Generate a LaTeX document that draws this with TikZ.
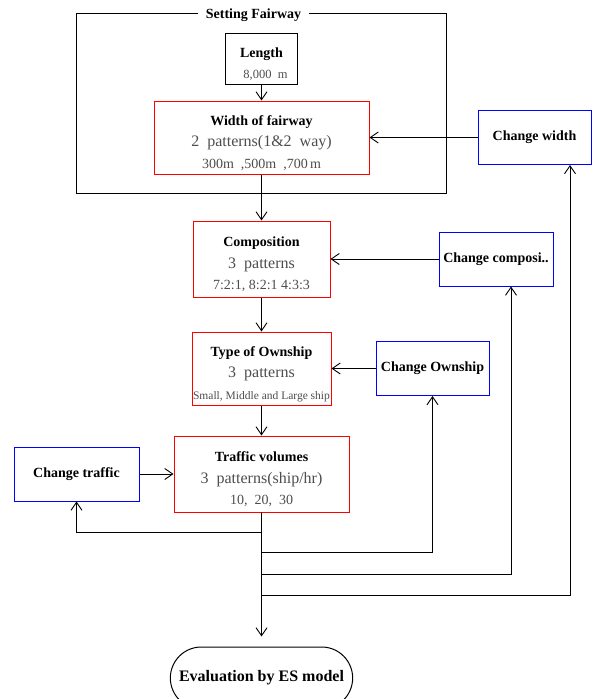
\documentclass[tikz,border=0pt]{standalone}
\usepackage{fontspec}
\setmainfont{Liberation Serif}
\usepackage{xcolor}
\usepackage{tikz}
\usetikzlibrary{positioning}
\usetikzlibrary{arrows.meta}
\usetikzlibrary{shapes.misc}
\usetikzlibrary{fit}

\definecolor{textgray}{RGB}{77,77,77}
\newcommand{\headline}[1]{\rule{0pt}{21pt}\bfseries #1}
\newcommand{\patfont}{\fontsize{16}{21.5}\selectfont\color{textgray}}
\newcommand{\valfont}{\fontsize{14}{21.5}\selectfont\color{textgray}}
\newcommand{\shipfont}{\fontsize{11.5}{21.5}\selectfont\color{textgray}}

\begin{document}
\begin{tikzpicture}[x=1pt,y=-1pt,font=\fontsize{14}{21.5}\selectfont,
      factor box/.style={rectangle,draw=red,line width=1pt,align=center,
        inner sep=0pt},
      change box/.style={rectangle,draw=blue,line width=1pt,align=center,
        inner sep=0pt,minimum height=54pt,font=\fontsize{14}{21.5}\selectfont\bfseries},
      flow/.style={-{Straight Barb[length=8pt,width=11pt]},line width=0.9pt}
      ]
      \useasboundingbox (0,0) rectangle (594,699);

      \node[factor box,draw=black,minimum width=72pt,minimum height=51pt] (len)
        at (261.5,58.5) {{\headline{Length}}\\\hspace{8pt}{\fontsize{12.5}{21.5}\selectfont\color{textgray}8,000\ \ m}};
      \node[factor box,minimum width=215pt,minimum height=73pt,below=16pt of len] (width)
        {{\headline{Width of fairway}}\\{\patfont 2\ \ patterns(1\&2\ \ way)}\\{\valfont 300m\ \ ,500m\ \ ,700\,m}};
      \node[factor box,minimum width=137pt,minimum height=76pt,below=46pt of width] (comp)
        {{\headline{Composition}}\\{\patfont 3\ \ patterns}\\{\valfont 7:2:1,\ 8:2:1\ 4:3:3}};
      \node[factor box,minimum width=139pt,minimum height=73pt,below=34pt of comp] (own)
        {{\headline{Type of Ownship}}\\{\patfont 3\ \ patterns}\\{\shipfont Small, Middle and Large ship}};
      \node[factor box,minimum width=175pt,minimum height=76pt,below=30pt of own] (traffic)
        {{\headline{Traffic volumes}}\\{\patfont 3\ \ patterns(ship/hr)}\\{\valfont 10,\ \ 20,\ \ 30}};
      \node[rounded rectangle,draw,line width=1pt,minimum width=189pt,minimum height=62pt,
        font=\fontsize{16}{20}\selectfont\bfseries,below=134pt of traffic] (eval) {Evaluation by ES model};

      \node[change box,minimum width=113pt,right=108pt of width] (chwidth) {Change width};
      \node[change box,minimum width=114pt,right=108pt of comp] (chcomp) {Change composi..};
      \node[change box,minimum width=113pt,right=44pt of own] (chown) {Change Ownship};
      \node[change box,minimum width=125pt,left=34pt of traffic] (chtraffic) {Change traffic};

      \node[draw,line width=1pt,fit=(len)(width),inner xsep=77pt,inner ysep=19pt] (fairway) {};
      \node[fill=white,inner xsep=8pt,inner ysep=2pt,font=\fontsize{14}{20}\selectfont\bfseries]
        (fairwaytitle) at ([xshift=-8pt,yshift=-2pt]fairway.north) {Setting Fairway};

      \coordinate[below=19.5pt of traffic.south] (j1);
      \coordinate[below=40pt of traffic.south] (j2);
      \coordinate[below=62pt of traffic.south] (j3);
      \coordinate[below=83pt of traffic.south] (j4);

      \draw[flow] (len) -- (width);
      \draw[flow] (width) -- (comp);
      \draw[flow] (comp) -- (own);
      \draw[flow] (own) -- (traffic);
      \draw[flow,shorten >=10pt] (traffic) -- (eval);

      \draw[flow] (chwidth) -- (width);
      \draw[flow] (chcomp) -- (comp);
      \draw[flow] (chown) -- (own);
      \draw[flow] (chtraffic) -- (traffic);

      % feedback loops
      \draw[flow] (j1) -| (chtraffic);
      \draw[flow] (j2) -| (chown);
      \draw[flow] (j3) -| ([xshift=15pt]chcomp.south);
      \draw[flow] (j4) -| ([xshift=35.5pt]chwidth.south);

    \end{tikzpicture}
\end{document}
